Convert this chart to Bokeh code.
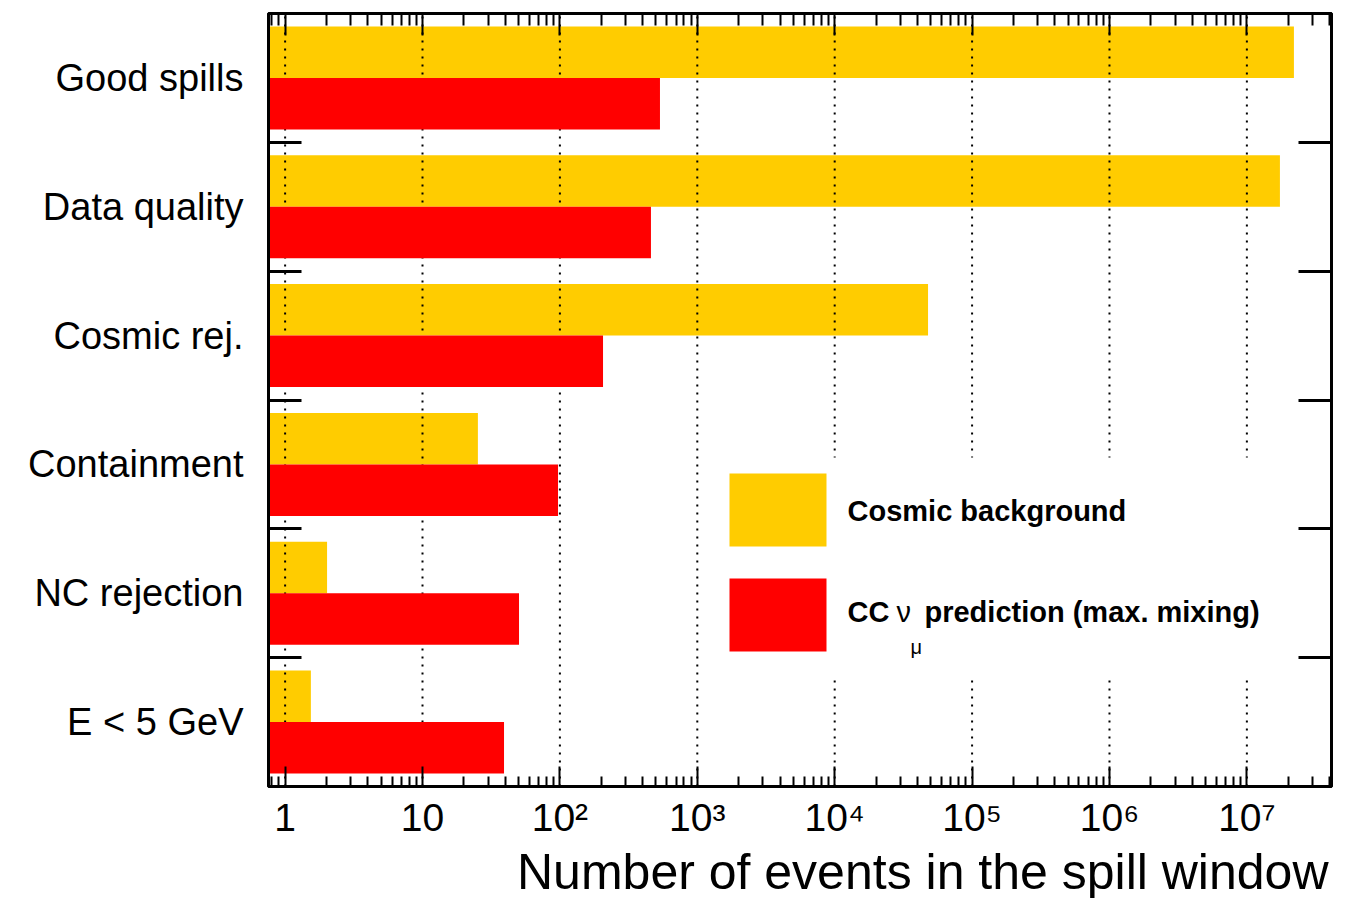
import math
from bokeh.plotting import figure
from bokeh.models import (FixedTicker, LogAxis, LinearAxis, Range1d, Title,
                          CustomJSTickFormatter, ColumnDataSource)
from bokeh.core.properties import value
from bokeh.embed import file_html
from bokeh.resources import INLINE

# ---------------- data ----------------
categories = ["Good spills", "Data quality", "Cosmic rej.", "Containment",
              "NC rejection", "E < 5 GeV"]
cosmic_background = [2.20e7, 1.74e7, 4.78e4, 25.3, 2.02, 1.54]
cc_numu_prediction = [535, 460, 206, 96.9, 50.4, 39.2]
decade_ticks = [1, 10, 100, 1e3, 1e4, 1e5, 1e6, 1e7]
decade_labels = ["1", "10", "10²", "10³", "10⁴", "10⁵", "10⁶", "10⁷"]
legend_cosmic = "Cosmic background"
legend_cc_parts = ["CC", "ν", "μ", "prediction (max. mixing)"]
x_title = "Number of events in the spill window"

YELLOW = "#FFCC00"
RED = "#FF0000"
FONT = "Liberation Sans"

X_LO, X_HI = 0.757, 4.13e7
N = len(categories)
centers = [N - 0.5 - i for i in range(N)]
boundaries = [float(b) for b in range(1, N)]
minor_ticks = [m * 10.0 ** k for k in range(-1, 8) for m in range(2, 10)
               if X_LO < m * 10.0 ** k < X_HI]

LLO, LHI = math.log10(X_LO), math.log10(X_HI)


def fx(f):
    """fraction of frame width (from left) -> data x"""
    return 10 ** (LLO + f * (LHI - LLO))


def fy(f):
    """fraction of frame height (from top) -> data y"""
    return N * (1 - f)


src = ColumnDataSource(dict(
    cat=categories,
    cosmic=cosmic_background,
    cc=cc_numu_prediction,
    y_top=[c + 0.2 for c in centers],
    y_bot=[c - 0.2 for c in centers],
))

p = figure(x_axis_type="log", x_range=Range1d(X_LO, X_HI), y_range=Range1d(0, N),
           frame_width=1063, frame_height=773, output_backend="svg",
           toolbar_location=None, min_border_left=268, min_border_right=14,
           min_border_top=13, min_border_bottom=0)
p.xgrid.visible = False
p.ygrid.visible = False
p.outline_line_color = "black"
p.outline_line_width = 3
p.background_fill_color = "white"
p.border_fill_color = "white"

# yellow bars
p.hbar(y="y_top", left=X_LO, right="cosmic", height=0.4, source=src,
       fill_color=YELLOW, line_color=None)
# dotted grid (drawn over yellow, under red)
p.segment(x0=decade_ticks, x1=decade_ticks, y0=0, y1=N, line_color="black",
          line_width=2, line_dash="2 6")
# red bars
p.hbar(y="y_bot", left=X_LO, right="cc", height=0.4, source=src,
       fill_color=RED, line_color=None)

# legend (white box + swatches + text)
p.quad(left=fx(0.4064), right=fx(0.9633), top=fy(0.5744), bottom=fy(0.8603),
       fill_color="white", line_color=None)
p.rect(x=[fx(0.4793)], y=[fy(0.6423)], width=97, height=73,
       width_units="screen", height_units="screen", fill_color=YELLOW, line_color=None)
p.rect(x=[fx(0.4793)], y=[fy(0.7781)], width=97, height=73,
       width_units="screen", height_units="screen", fill_color=RED, line_color=None)
p.text(x=[fx(0.5447)], y=[fy(0.643)], text=[legend_cosmic], text_font=value(FONT),
       text_font_style="bold", text_font_size="29px", text_baseline="middle",
       text_align="left", text_color="black")
p.text(x=[fx(0.5447)], y=[fy(0.7749)], text=[legend_cc_parts[0]], text_font=value(FONT),
       text_font_style="bold", text_font_size="29px", text_baseline="middle",
       text_align="left", text_color="black")
p.text(x=[fx(0.5908)], y=[fy(0.7749)], text=[legend_cc_parts[1]], text_font=value(FONT),
       text_font_style="normal", text_font_size="29px", text_baseline="middle",
       text_align="left", text_color="black")
p.text(x=[fx(0.6040)], y=[fy(0.8200)], text=[legend_cc_parts[2]], text_font=value(FONT),
       text_font_style="normal", text_font_size="20px", text_baseline="middle",
       text_align="left", text_color="black")
p.text(x=[fx(0.6171)], y=[fy(0.7749)], text=[legend_cc_parts[3]], text_font=value(FONT),
       text_font_style="bold", text_font_size="29px", text_baseline="middle",
       text_align="left", text_color="black")

# bottom axis
xa = p.xaxis[0]
xa.ticker = FixedTicker(ticks=decade_ticks, minor_ticks=minor_ticks)
xa.major_label_overrides = {t: l for t, l in zip(decade_ticks, decade_labels)}
xa.major_label_text_font = FONT
xa.major_label_text_font_size = "39px"
xa.major_label_text_color = "black"
xa.major_label_standoff = 9
xa.major_tick_in = 20
xa.major_tick_out = 0
xa.minor_tick_in = 10
xa.minor_tick_out = 0
xa.major_tick_line_width = 2
xa.minor_tick_line_width = 2
xa.axis_line_width = 3
xa.major_tick_line_color = "black"
xa.minor_tick_line_color = "black"

# top axis
top = LogAxis(ticker=FixedTicker(ticks=decade_ticks, minor_ticks=minor_ticks),
              formatter=CustomJSTickFormatter(code="return ''"),
              major_label_text_font_size="0px", major_label_standoff=0,
              major_tick_in=22, major_tick_out=0, minor_tick_in=12, minor_tick_out=0,
              major_tick_line_width=2, minor_tick_line_width=2, axis_line_width=3)
p.add_layout(top, "above")

# left axis: labels at category centres, ticks at category boundaries
ya = p.yaxis[0]
ya.ticker = FixedTicker(ticks=centers, minor_ticks=boundaries)
ya.major_label_overrides = {c: n for c, n in zip(centers, categories)}
ya.major_label_text_font = FONT
ya.major_label_text_font_size = "38px"
ya.major_label_text_color = "black"
ya.major_label_standoff = 25
ya.major_tick_in = 0
ya.major_tick_out = 0
ya.minor_tick_in = 33
ya.minor_tick_out = 0
ya.minor_tick_line_width = 3
ya.minor_tick_line_color = "black"
ya.axis_line_width = 3

right = LinearAxis(ticker=FixedTicker(ticks=[], minor_ticks=boundaries),
                   formatter=CustomJSTickFormatter(code="return ''"),
                   major_label_text_font_size="0px", major_label_standoff=0,
                   major_tick_in=0, major_tick_out=0, minor_tick_in=33, minor_tick_out=0,
                   minor_tick_line_width=3, axis_line_width=3)
p.add_layout(right, "right")

p.add_layout(Title(text=x_title, align="right", text_font=FONT, text_font_size="50px",
                   text_font_style="normal", text_color="black", standoff=0,
                   offset=3), "below")

open("out.html", "w").write(file_html(p, INLINE))
